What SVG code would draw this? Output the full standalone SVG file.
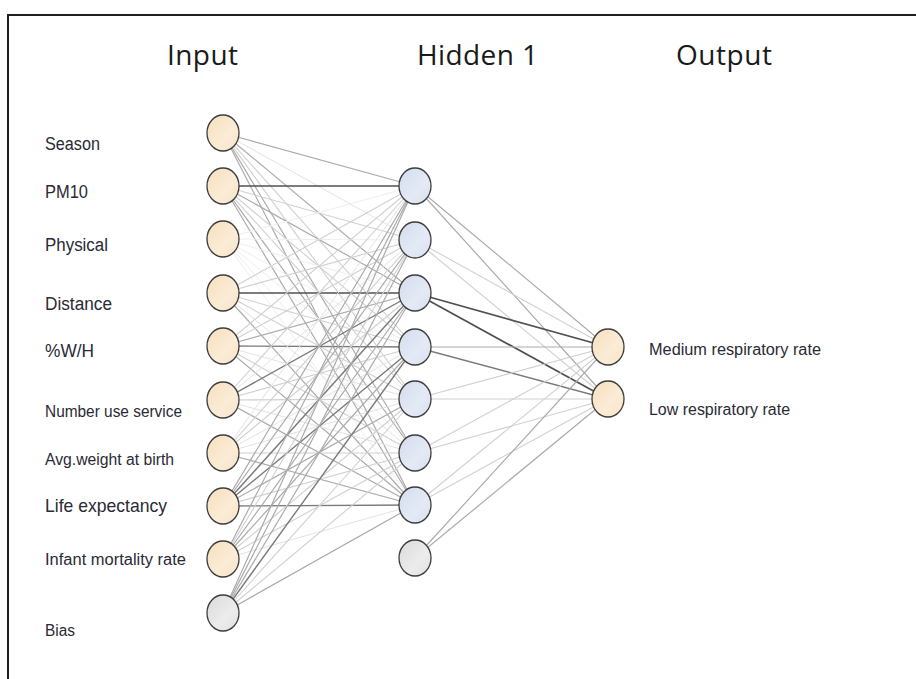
<svg xmlns="http://www.w3.org/2000/svg" width="916" height="679" viewBox="0 0 916 679">
<style>
.hdr{font-family:"Open Sans","Liberation Sans",sans-serif;font-size:28px;fill:#1a1a1a}
.lbl{font-family:"Liberation Sans",Arial,sans-serif;fill:#2a2a35}
.node{stroke:#3c3c3c;stroke-width:1.3}
.in{fill:url(#gIn)}
.hid{fill:url(#gHid)}
.bias{fill:url(#gBias)}
.c0{stroke:#eeeeee;stroke-width:1}
.c1{stroke:#e2e2e2;stroke-width:1}
.c2{stroke:#d0d0d0;stroke-width:1.1}
.c3{stroke:#ababab;stroke-width:1.2}
.c4{stroke:#7a7a7a;stroke-width:1.4}
.c5{stroke:#505050;stroke-width:1.7}
</style>
<defs>
<linearGradient id="gIn" x1="0" y1="0" x2="1" y2="1">
<stop offset="0" stop-color="#f6dfbe"/><stop offset="0.6" stop-color="#fbecd6"/><stop offset="1" stop-color="#f7e3c6"/>
</linearGradient>
<linearGradient id="gHid" x1="0" y1="0" x2="1" y2="1">
<stop offset="0" stop-color="#d3dcee"/><stop offset="0.6" stop-color="#e4eaf5"/><stop offset="1" stop-color="#d8e0ef"/>
</linearGradient>
<linearGradient id="gBias" x1="0" y1="0" x2="1" y2="1">
<stop offset="0" stop-color="#dadada"/><stop offset="0.6" stop-color="#ececec"/><stop offset="1" stop-color="#e0e0e0"/>
</linearGradient>
</defs>
<rect x="0" y="0" width="916" height="679" fill="#ffffff"/>
<g id="frame" fill="none" stroke="#1e1e1e" stroke-width="2">
<path d="M8,679 V15 H916"/>
</g>
<g id="headers">
<text class="hdr" x="167" y="65" textLength="71">Input</text>
<text class="hdr" x="417" y="65" textLength="121">Hidden 1</text>
<text class="hdr" x="676" y="65" textLength="96">Output</text>
</g>
<g id="connectors">
<line class="c3" x1="223" y1="133" x2="415" y2="186"/>
<line class="c1" x1="223" y1="133" x2="415" y2="240"/>
<line class="c3" x1="223" y1="133" x2="415" y2="293"/>
<line class="c2" x1="223" y1="133" x2="415" y2="347"/>
<line class="c2" x1="223" y1="133" x2="415" y2="399"/>
<line class="c3" x1="223" y1="133" x2="415" y2="453"/>
<line class="c3" x1="223" y1="133" x2="415" y2="505"/>
<line class="c5" x1="223" y1="186" x2="415" y2="186"/>
<line class="c2" x1="223" y1="186" x2="415" y2="240"/>
<line class="c3" x1="223" y1="186" x2="415" y2="293"/>
<line class="c2" x1="223" y1="186" x2="415" y2="347"/>
<line class="c2" x1="223" y1="186" x2="415" y2="399"/>
<line class="c3" x1="223" y1="186" x2="415" y2="453"/>
<line class="c3" x1="223" y1="186" x2="415" y2="505"/>
<line class="c0" x1="223" y1="239" x2="415" y2="186"/>
<line class="c0" x1="223" y1="239" x2="415" y2="240"/>
<line class="c0" x1="223" y1="239" x2="415" y2="293"/>
<line class="c0" x1="223" y1="239" x2="415" y2="347"/>
<line class="c0" x1="223" y1="239" x2="415" y2="399"/>
<line class="c0" x1="223" y1="239" x2="415" y2="453"/>
<line class="c0" x1="223" y1="239" x2="415" y2="505"/>
<line class="c2" x1="223" y1="293" x2="415" y2="186"/>
<line class="c2" x1="223" y1="293" x2="415" y2="240"/>
<line class="c5" x1="223" y1="293" x2="415" y2="293"/>
<line class="c2" x1="223" y1="293" x2="415" y2="347"/>
<line class="c2" x1="223" y1="293" x2="415" y2="399"/>
<line class="c1" x1="223" y1="293" x2="415" y2="453"/>
<line class="c3" x1="223" y1="293" x2="415" y2="505"/>
<line class="c2" x1="223" y1="346" x2="415" y2="186"/>
<line class="c2" x1="223" y1="346" x2="415" y2="240"/>
<line class="c3" x1="223" y1="346" x2="415" y2="293"/>
<line class="c4" x1="223" y1="346" x2="415" y2="347"/>
<line class="c1" x1="223" y1="346" x2="415" y2="399"/>
<line class="c2" x1="223" y1="346" x2="415" y2="453"/>
<line class="c3" x1="223" y1="346" x2="415" y2="505"/>
<line class="c2" x1="223" y1="400" x2="415" y2="186"/>
<line class="c1" x1="223" y1="400" x2="415" y2="240"/>
<line class="c4" x1="223" y1="400" x2="415" y2="293"/>
<line class="c2" x1="223" y1="400" x2="415" y2="347"/>
<line class="c2" x1="223" y1="400" x2="415" y2="399"/>
<line class="c1" x1="223" y1="400" x2="415" y2="453"/>
<line class="c3" x1="223" y1="400" x2="415" y2="505"/>
<line class="c1" x1="223" y1="453" x2="415" y2="186"/>
<line class="c2" x1="223" y1="453" x2="415" y2="240"/>
<line class="c2" x1="223" y1="453" x2="415" y2="293"/>
<line class="c1" x1="223" y1="453" x2="415" y2="347"/>
<line class="c1" x1="223" y1="453" x2="415" y2="399"/>
<line class="c2" x1="223" y1="453" x2="415" y2="453"/>
<line class="c3" x1="223" y1="453" x2="415" y2="505"/>
<line class="c3" x1="223" y1="506" x2="415" y2="186"/>
<line class="c3" x1="223" y1="506" x2="415" y2="240"/>
<line class="c4" x1="223" y1="506" x2="415" y2="293"/>
<line class="c4" x1="223" y1="506" x2="415" y2="347"/>
<line class="c3" x1="223" y1="506" x2="415" y2="399"/>
<line class="c2" x1="223" y1="506" x2="415" y2="453"/>
<line class="c4" x1="223" y1="506" x2="415" y2="505"/>
<line class="c3" x1="223" y1="559" x2="415" y2="186"/>
<line class="c2" x1="223" y1="559" x2="415" y2="240"/>
<line class="c3" x1="223" y1="559" x2="415" y2="293"/>
<line class="c3" x1="223" y1="559" x2="415" y2="347"/>
<line class="c2" x1="223" y1="559" x2="415" y2="399"/>
<line class="c2" x1="223" y1="559" x2="415" y2="453"/>
<line class="c1" x1="223" y1="559" x2="415" y2="505"/>
<line class="c3" x1="223" y1="613" x2="415" y2="186"/>
<line class="c3" x1="223" y1="613" x2="415" y2="240"/>
<line class="c3" x1="223" y1="613" x2="415" y2="293"/>
<line class="c4" x1="223" y1="613" x2="415" y2="347"/>
<line class="c2" x1="223" y1="613" x2="415" y2="399"/>
<line class="c2" x1="223" y1="613" x2="415" y2="453"/>
<line class="c3" x1="223" y1="613" x2="415" y2="505"/>
<line class="c3" x1="415" y1="186" x2="608" y2="347"/>
<line class="c3" x1="415" y1="186" x2="608" y2="399"/>
<line class="c2" x1="415" y1="240" x2="608" y2="347"/>
<line class="c2" x1="415" y1="240" x2="608" y2="399"/>
<line class="c5" x1="415" y1="293" x2="608" y2="347"/>
<line class="c5" x1="415" y1="293" x2="608" y2="399"/>
<line class="c3" x1="415" y1="347" x2="608" y2="347"/>
<line class="c4" x1="415" y1="347" x2="608" y2="399"/>
<line class="c2" x1="415" y1="399" x2="608" y2="347"/>
<line class="c2" x1="415" y1="399" x2="608" y2="399"/>
<line class="c2" x1="415" y1="453" x2="608" y2="347"/>
<line class="c2" x1="415" y1="453" x2="608" y2="399"/>
<line class="c2" x1="415" y1="505" x2="608" y2="347"/>
<line class="c2" x1="415" y1="505" x2="608" y2="399"/>
<line class="c3" x1="415" y1="558" x2="608" y2="347"/>
<line class="c3" x1="415" y1="558" x2="608" y2="399"/>
</g>
<g id="in_season"><ellipse class="node in" cx="223" cy="133" rx="16" ry="18"/><text class="lbl" x="45" y="150" font-size="18" textLength="55" lengthAdjust="spacingAndGlyphs">Season</text></g>
<g id="in_pm10"><ellipse class="node in" cx="223" cy="186" rx="16" ry="18"/><text class="lbl" x="45" y="198" font-size="18" textLength="43" lengthAdjust="spacingAndGlyphs">PM10</text></g>
<g id="in_physical"><ellipse class="node in" cx="223" cy="239" rx="16" ry="18"/><text class="lbl" x="45" y="251" font-size="18" textLength="63" lengthAdjust="spacingAndGlyphs">Physical</text></g>
<g id="in_distance"><ellipse class="node in" cx="223" cy="293" rx="16" ry="18"/><text class="lbl" x="45" y="310" font-size="18" textLength="67" lengthAdjust="spacingAndGlyphs">Distance</text></g>
<g id="in_wh"><ellipse class="node in" cx="223" cy="346" rx="16" ry="18"/><text class="lbl" x="45" y="357" font-size="18" textLength="49" lengthAdjust="spacingAndGlyphs">%W/H</text></g>
<g id="in_number"><ellipse class="node in" cx="223" cy="400" rx="16" ry="18"/><text class="lbl" x="45" y="417" font-size="16" textLength="137" lengthAdjust="spacingAndGlyphs">Number use service</text></g>
<g id="in_avg"><ellipse class="node in" cx="223" cy="453" rx="16" ry="18"/><text class="lbl" x="45" y="465" font-size="16" textLength="129" lengthAdjust="spacingAndGlyphs">Avg.weight at birth</text></g>
<g id="in_life"><ellipse class="node in" cx="223" cy="506" rx="16" ry="18"/><text class="lbl" x="45" y="512" font-size="18.5" textLength="122" lengthAdjust="spacingAndGlyphs">Life expectancy</text></g>
<g id="in_infant"><ellipse class="node in" cx="223" cy="559" rx="16" ry="18"/><text class="lbl" x="45" y="565" font-size="16" textLength="141" lengthAdjust="spacingAndGlyphs">Infant mortality rate</text></g>
<g id="in_bias"><ellipse class="node bias" cx="223" cy="613" rx="16" ry="18"/><text class="lbl" x="45" y="636" font-size="16" textLength="30" lengthAdjust="spacingAndGlyphs">Bias</text></g>
<g id="h1"><ellipse class="node hid" cx="415" cy="186" rx="16" ry="18"/></g>
<g id="h2"><ellipse class="node hid" cx="415" cy="240" rx="16" ry="18"/></g>
<g id="h3"><ellipse class="node hid" cx="415" cy="293" rx="16" ry="18"/></g>
<g id="h4"><ellipse class="node hid" cx="415" cy="347" rx="16" ry="18"/></g>
<g id="h5"><ellipse class="node hid" cx="415" cy="399" rx="16" ry="18"/></g>
<g id="h6"><ellipse class="node hid" cx="415" cy="453" rx="16" ry="18"/></g>
<g id="h7"><ellipse class="node hid" cx="415" cy="505" rx="16" ry="18"/></g>
<g id="h_bias"><ellipse class="node bias" cx="415" cy="558" rx="16" ry="18"/></g>
<g id="out_medium"><ellipse class="node in" cx="608" cy="347" rx="16" ry="18"/><text class="lbl" x="649" y="355" font-size="16" textLength="172" lengthAdjust="spacingAndGlyphs">Medium respiratory rate</text></g>
<g id="out_low"><ellipse class="node in" cx="608" cy="399" rx="16" ry="18"/><text class="lbl" x="649" y="415" font-size="16" textLength="141" lengthAdjust="spacingAndGlyphs">Low respiratory rate</text></g>
</svg>
